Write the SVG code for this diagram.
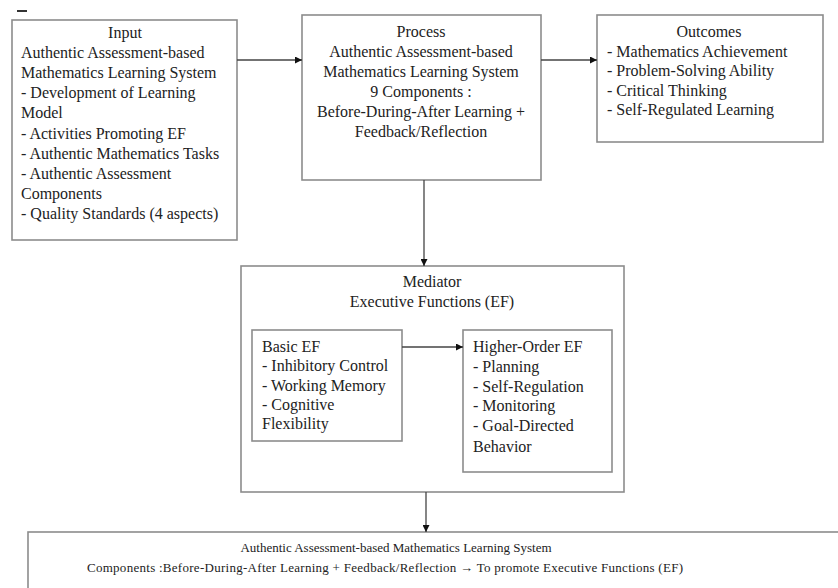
<svg xmlns="http://www.w3.org/2000/svg" width="838" height="588" viewBox="0 0 838 588">
<style>
.box{fill:#fff;stroke:#8c8c8c;stroke-width:1.6}
.t{font-family:"Liberation Serif","Times New Roman",serif;font-size:16px;fill:#222}
.s{font-size:13px}
.c{text-anchor:middle}
.con{stroke:#444;stroke-width:1.3;fill:none}
</style>
<defs>
<marker id="ah" viewBox="0 0 10 10" refX="10" refY="5" markerWidth="7" markerHeight="7" orient="auto" markerUnits="userSpaceOnUse">
<path d="M0,0 L10,5 L0,10 z" fill="#111"/>
</marker>
</defs>
<rect width="838" height="588" fill="#fff"/>
<rect x="17" y="10" width="10" height="2" fill="#333"/>
<g id="input">
<rect class="box" x="12" y="20" width="225" height="220"/>
<text class="t c" x="125" y="38">Input</text>
<text class="t" x="21" y="58">Authentic Assessment-based</text>
<text class="t" x="21" y="78">Mathematics Learning System</text>
<text class="t" x="21" y="98">- Development of Learning</text>
<text class="t" x="21" y="118">Model</text>
<text class="t" x="21" y="139">- Activities Promoting EF</text>
<text class="t" x="21" y="159">- Authentic Mathematics Tasks</text>
<text class="t" x="21" y="179">- Authentic Assessment</text>
<text class="t" x="21" y="199">Components</text>
<text class="t" x="21" y="219">- Quality Standards (4 aspects)</text>
</g>
<g id="process">
<rect class="box" x="302" y="15" width="239" height="165"/>
<text class="t c" x="421" y="37">Process</text>
<text class="t c" x="421" y="57">Authentic Assessment-based</text>
<text class="t c" x="421" y="77">Mathematics Learning System</text>
<text class="t c" x="421" y="97">9 Components :</text>
<text class="t c" x="421" y="117">Before-During-After Learning +</text>
<text class="t c" x="421" y="137">Feedback/Reflection</text>
</g>
<g id="outcomes">
<rect class="box" x="597" y="15" width="226" height="127"/>
<text class="t c" x="709" y="37">Outcomes</text>
<text class="t" x="607" y="57">- Mathematics Achievement</text>
<text class="t" x="607" y="76">- Problem-Solving Ability</text>
<text class="t" x="607" y="96">- Critical Thinking</text>
<text class="t" x="607" y="115">- Self-Regulated Learning</text>
</g>
<g id="mediator">
<rect class="box" x="241" y="266" width="383" height="226"/>
<text class="t c" x="432" y="287">Mediator</text>
<text class="t c" x="432" y="307">Executive Functions (EF)</text>
</g>
<g id="basic-ef">
<rect class="box" x="252" y="330" width="150" height="111"/>
<text class="t" x="262" y="352">Basic EF</text>
<text class="t" x="262" y="371">- Inhibitory Control</text>
<text class="t" x="262" y="391">- Working Memory</text>
<text class="t" x="262" y="410">- Cognitive</text>
<text class="t" x="262" y="429">Flexibility</text>
</g>
<g id="higher-ef">
<rect class="box" x="463" y="330" width="149" height="142"/>
<text class="t" x="473" y="352">Higher-Order EF</text>
<text class="t" x="473" y="372">- Planning</text>
<text class="t" x="473" y="392">- Self-Regulation</text>
<text class="t" x="473" y="411">- Monitoring</text>
<text class="t" x="473" y="431">- Goal-Directed</text>
<text class="t" x="473" y="452">Behavior</text>
</g>
<g id="system">
<rect class="box" x="28" y="532" width="830" height="70"/>
<text class="t s c" x="396" y="552">Authentic Assessment-based Mathematics Learning System</text>
<text class="t s" x="87" y="572" textLength="596" lengthAdjust="spacing">Components :Before-During-After Learning + Feedback/Reflection → To promote Executive Functions (EF)</text>
</g>
<g id="connectors">
<line class="con" x1="237" y1="60" x2="302" y2="60" marker-end="url(#ah)"/>
<line class="con" x1="541" y1="60" x2="597" y2="60" marker-end="url(#ah)"/>
<line class="con" x1="424" y1="180" x2="424" y2="266" marker-end="url(#ah)"/>
<line class="con" x1="402" y1="347" x2="463" y2="347" marker-end="url(#ah)"/>
<line class="con" x1="426" y1="492" x2="426" y2="532" marker-end="url(#ah)"/>
</g>
</svg>
